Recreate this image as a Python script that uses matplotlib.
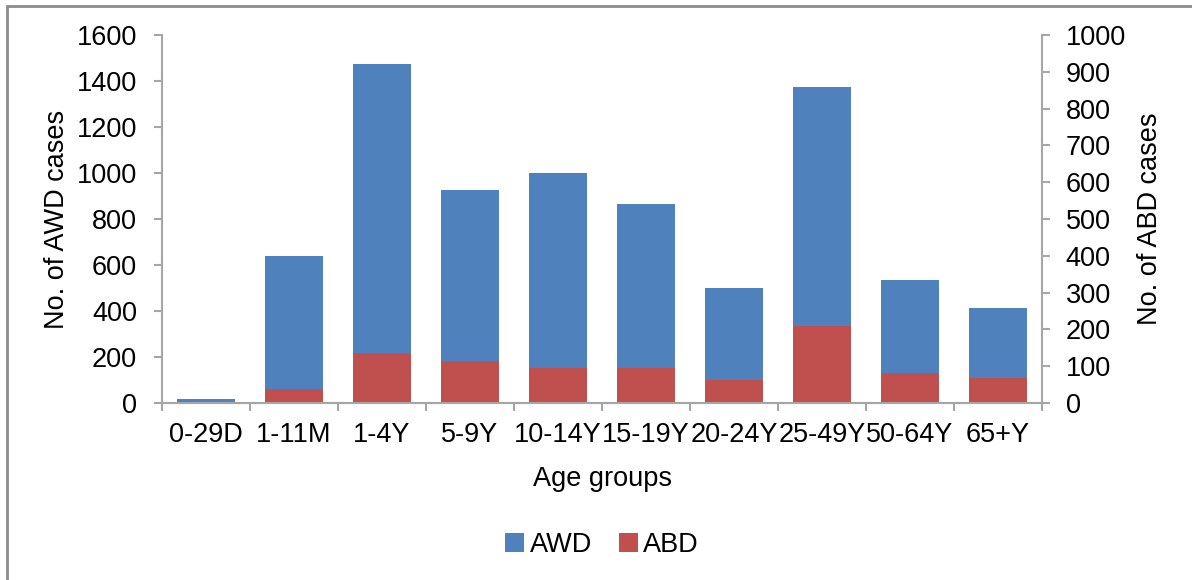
import matplotlib.pyplot as plt
import numpy as np
from matplotlib.patches import Rectangle

# Datos
grupos = ["0-29D", "1-11M", "1-4Y", "5-9Y", "10-14Y", "15-19Y", "20-24Y", "25-49Y", "50-64Y", "65+Y"]
awd = [18, 640, 1475, 928, 1000, 866, 500, 1372, 535, 413]
abd = [0, 38, 137, 115, 94, 94, 63, 208, 81, 67]

plt.rcParams['font.family'] = ['Liberation Sans', 'DejaVu Sans']
azul = '#4F81BD'
rojo = '#C0504D'
gris = '#A6A6A6'
fs = 19.5

fig = plt.figure(figsize=(11.92, 5.8), dpi=100)
ax = fig.add_axes([162 / 1192, 1 - 403 / 580, 880 / 1192, 368 / 580])
ax2 = ax.twinx()

x = np.arange(len(grupos))
ax.bar(x, awd, width=0.66, color=azul, label='AWD')
ax2.bar(x, abd, width=0.66, color=rojo, label='ABD')

ax.set_xlim(-0.5, len(grupos) - 0.5)
ax.set_ylim(0, 1600)
ax2.set_ylim(0, 1000)
ax.set_yticks(range(0, 1601, 200))
ax2.set_yticks(range(0, 1001, 100))

# Ticks del eje x entre categorías
ax.set_xticks(np.arange(-0.5, len(grupos), 1))
ax.set_xticklabels([])
ax.set_xticks(x, minor=True)
ax.set_xticklabels(grupos, minor=True)
ax.tick_params(axis='x', which='minor', length=0, pad=14, labelsize=fs)
ax.tick_params(axis='x', which='major', length=6, color=gris, direction='out', width=1.5)
ax.tick_params(axis='y', length=6, color=gris, width=1.5, labelsize=fs, pad=12)
ax2.tick_params(axis='y', length=6, color=gris, width=1.5, labelsize=fs, pad=11)

for a in (ax, ax2):
    a.spines['top'].set_visible(False)
    for s in ('left', 'right', 'bottom'):
        a.spines[s].set_color(gris)
        a.spines[s].set_linewidth(1.5)
ax.spines['right'].set_visible(False)
ax2.spines['left'].set_visible(False)

ax.set_xlabel("Age groups", fontsize=fs, labelpad=13)
ax.set_ylabel("No. of AWD cases", fontsize=fs, labelpad=5)
ax2.set_ylabel("No. of ABD cases", fontsize=fs, labelpad=8)

h1, l1 = ax.get_legend_handles_labels()
h2, l2 = ax2.get_legend_handles_labels()
fig.legend(h1 + h2, l1 + l2, loc='center', bbox_to_anchor=(0.505, 1 - 545 / 580), ncol=2,
           frameon=False, fontsize=fs, handlelength=0.7, handleheight=0.7,
           handletextpad=0.2, columnspacing=1.0)

# Marco exterior
fig.patches.append(Rectangle((7 / 1192, -0.1), 1.1, 1.1 - 6 / 580,
                             transform=fig.transFigure, fill=False,
                             edgecolor='#8C8C8C', linewidth=2, zorder=0))

fig.savefig("out.png", dpi=100)
